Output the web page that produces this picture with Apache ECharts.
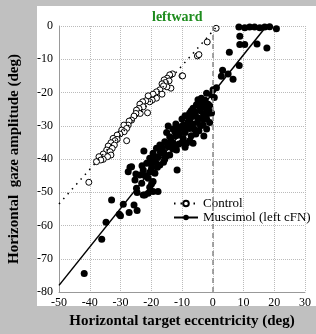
<!DOCTYPE html>
<html>
<head>
<meta charset="utf-8">
<script src="https://cdn.jsdelivr.net/npm/echarts@6/dist/echarts.min.js"></script>
<style>
html,body{margin:0;padding:0;background:#c0c0c0;}
#main{width:316px;height:334px;}
</style>
</head>
<body>
<div id="main"></div>
<script>
// control (open circles)
var ctrlX = [-13.1,-14.0,-10.0,-14.8,-15.8,-14.2,-15.4,-16.5,-13.6,-14.9,-16.0,-17.2,-16.5,-18.3,-19.4,-18.3,-19.7,-21.0,-20.5,-21.8,
  -22.8,-23.7,-22.6,-24.0,-24.8,-21.2,-23.6,-25.0,-25.6,-26.4,-27.2,-27.5,-28.9,-28.0,-29.6,-28.8,-30.2,-31.1,-32.4,-31.1,
  -28.0,-31.8,-33.1,-32.0,-34.0,-32.7,-34.5,-33.4,-35.6,-33.1,-34.2,-37.0,-35.6,-36.4,-37.8,-40.3,1.1,-1.8,-5.0,-4.5,-9.8];
var ctrlY = [-14.4,-14.7,-15.0,-15.7,-16.2,-16.5,-17.0,-17.4,-18.7,-18.3,-18.0,-19.2,-20.5,-19.8,-20.5,-21.7,-22.3,-21.0,-22.8,-22.5,
  -22.8,-23.5,-24.3,-24.8,-25.3,-26.1,-26.3,-26.3,-27.1,-28.3,-28.6,-29.8,-29.8,-30.8,-31.3,-31.8,-32.5,-32.8,-33.8,-34.1,
  -34.5,-34.5,-35.1,-35.8,-36.1,-36.8,-37.3,-37.8,-38.5,-38.8,-39.3,-39.3,-40.1,-40.3,-40.8,-47.0,-0.7,-4.8,-9.0,-8.6,-15.0];

// muscimol (filled circles)
var musX = [8.5,10.4,12.0,13.6,15.3,16.9,18.5,20.7,8.8,8.8,10.4,14.4,17.6,5.4,8.6,3.2,2.8,5.0,6.6,1.2,
  0.1,-0.4,-2.0,-3.7,-4.8,-5.3,-3.1,-6.4,-7.5,-5.8,-0.4,-2.6,-4.2,-1.0,-5.8,-6.9,-4.2,-8.0,-9.6,-14.5,
  -11.3,-7.5,-9.1,-12.3,-10.9,-14.0,-2.9,-9.6,-15.6,-12.9,-8.5,-17.2,-14.5,-18.3,-11.8,-16.1,-22.4,-19.4,-14.0,-17.8,
  -20.5,-15.6,-18.8,-21.5,-17.2,-26.4,-19.9,-11.6,-22.6,-27.5,-18.8,-23.7,-21.0,-25.3,-19.4,-23.1,-20.5,-24.8,-19.4,-17.8,
  -22.1,-19.9,-24.6,-22.6,-21.0,-32.9,-29.1,-25.6,-24.6,-27.2,-30.4,-30.0,-34.7,-36.1,-41.8,
  -6.0,-3.0,-7.0,-5.0,-3.0,-8.0,-10.0,-11.0,-6.0,-12.0,-7.0,-10.0,-13.0,-9.0,-4.0,-2.0,-1.0,-1.5,-7.5,-3.1,
  -6.4,-14.0,-16.0,-2.5,-26.9,
  -13.0,-12.0,-10.0,-8.5,-9.0,-6.5,-5.0,-4.0,-2.0,-1.5,-3.5,-11.0,-13.5,-15.0,-16.5,-15.0,-17.0,-19.0,-18.0,-20.5,
  -22.0,-16.0,-12.0,-9.0,-7.5,-5.5,-4.5,-2.0,-1.0,0.5,-20.0,-23.0,-25.0];
var musY = [-0.3,-0.5,-0.3,-0.3,-0.5,-0.3,-0.2,-0.8,-3.1,-5.6,-5.6,-5.4,-6.6,-7.9,-11.9,-13.3,-15.1,-14.4,-16.0,-18.6,
  -19.2,-20.7,-20.2,-21.7,-22.2,-23.7,-24.2,-24.7,-26.2,-26.7,-26.2,-22.8,-24.3,-25.8,-25.8,-27.3,-27.8,-28.8,-29.8,-30.1,
  -30.3,-30.8,-31.8,-31.8,-32.8,-33.3,-33.1,-33.8,-34.8,-35.3,-35.3,-35.8,-36.3,-36.8,-37.3,-37.8,-37.6,-38.3,-38.8,-39.3,
  -39.8,-40.1,-40.8,-41.3,-41.8,-42.3,-42.8,-43.3,-43.3,-43.8,-44.3,-44.8,-45.8,-46.3,-46.8,-47.3,-48.5,-48.8,-49.8,-49.8,
  -50.8,-47.5,-50.1,-50.8,-50.3,-52.3,-53.6,-53.8,-55.5,-56.1,-56.6,-57.1,-59.0,-64.1,-74.4,
  -26.0,-26.5,-25.5,-29.0,-28.0,-27.0,-28.0,-31.0,-31.0,-33.0,-33.0,-35.0,-37.0,-32.0,-30.0,-28.0,-29.0,-26.3,-28.3,-29.8,
  -35.3,-35.3,-38.3,-22.3,-42.5,
  -31.0,-29.5,-30.5,-30.0,-27.0,-29.5,-27.5,-25.5,-25.0,-23.5,-23.0,-35.5,-34.0,-32.0,-36.5,-39.0,-38.0,-40.0,-42.5,-44.0,
  -45.0,-41.0,-36.5,-36.5,-34.5,-32.5,-31.5,-31.0,-24.0,-21.5,-41.5,-42.0,-44.5];

// fit lines (end points)
var ctrlFitX = [-50, 1.5], ctrlFitY = [-53.5, 0];
var musFitX = [-50, 17.5], musFitY = [-78, 0];

function pairs(xs, ys) {
  var out = [];
  for (var i = 0; i < xs.length; i++) out.push([xs[i], ys[i]]);
  return out;
}

var serif = '"Liberation Serif", "Times New Roman", serif';
var grey = '#c0c0c0';
var myChart = echarts.init(document.getElementById('main'));
myChart.setOption({
  backgroundColor: '#fff',
  animation: false,
  title: {text: 'leftward', left: 147, top: 5, textStyle: {color: '#1e8c1e', fontFamily: serif, fontWeight: 'bold', fontSize: 14}},
  // grey frame round the white panel
  graphic: [
    {type: 'rect', z: -10, silent: true, shape: {x: 0, y: 0, width: 37, height: 334}, style: {fill: grey}},
    {type: 'rect', z: -10, silent: true, shape: {x: 0, y: 0, width: 316, height: 6}, style: {fill: grey}},
    {type: 'rect', z: -10, silent: true, shape: {x: 0, y: 306, width: 316, height: 28}, style: {fill: grey}}
  ],
  grid: {left: 59, right: 11, top: 26, bottom: 42, outerBoundsMode: 'none'},
  legend: {orient: 'vertical', left: 168, top: 192, itemWidth: 24, itemHeight: 7, itemGap: 1,
    data: ['Control', 'Muscimol (left cFN)'], textStyle: {fontFamily: serif, fontSize: 13, color: '#000'}},
  xAxis: {type: 'value', min: -50, max: 30, interval: 10,
    name: 'Horizontal target eccentricity (deg)', nameLocation: 'middle', nameGap: 20,
    nameTextStyle: {fontFamily: serif, fontWeight: 'bold', fontSize: 15, color: '#000'},
    axisLine: {show: true, onZero: false, lineStyle: {color: '#999'}}, axisTick: {show: false},
    axisLabel: {color: '#000', fontFamily: serif, fontSize: 12, margin: 5},
    splitLine: {show: true, lineStyle: {type: 'dotted', color: '#bbb'}}},
  yAxis: {type: 'value', min: -80, max: 0, interval: 10,
    name: 'Horizontal  gaze amplitude (deg)', nameLocation: 'middle', nameGap: 37,
    nameTextStyle: {fontFamily: serif, fontWeight: 'bold', fontSize: 15, color: '#000'},
    axisLine: {show: true, onZero: false, lineStyle: {color: '#999'}}, axisTick: {show: false},
    axisLabel: {color: '#000', fontFamily: serif, fontSize: 12, margin: 6},
    splitLine: {show: true, lineStyle: {type: 'dotted', color: '#bbb'}}},
  series: [
    {name: 'Control', type: 'line', data: pairs(ctrlFitX, ctrlFitY), symbol: 'emptyCircle', showSymbol: false,
      lineStyle: {color: '#000', width: 1.5, type: [1.5, 5]}, itemStyle: {color: '#000'}},
    {name: 'Muscimol (left cFN)', type: 'line', data: pairs(musFitX, musFitY), symbol: 'circle', showSymbol: false,
      lineStyle: {color: '#000', width: 1.5}, itemStyle: {color: '#000'}},
    {name: 'ctrlPts', type: 'scatter', data: pairs(ctrlX, ctrlY), symbolSize: 6,
      itemStyle: {color: '#fff', borderColor: '#000', borderWidth: 1, opacity: 1},
      markLine: {silent: true, symbol: 'none', label: {show: false},
        lineStyle: {color: '#888', width: 1.5, type: [5, 4]}, data: [{xAxis: 0}]}},
    {name: 'musPts', type: 'scatter', data: pairs(musX, musY), symbolSize: 7,
      itemStyle: {color: '#000', opacity: 1}}
  ]
});
</script>
</body>
</html>
